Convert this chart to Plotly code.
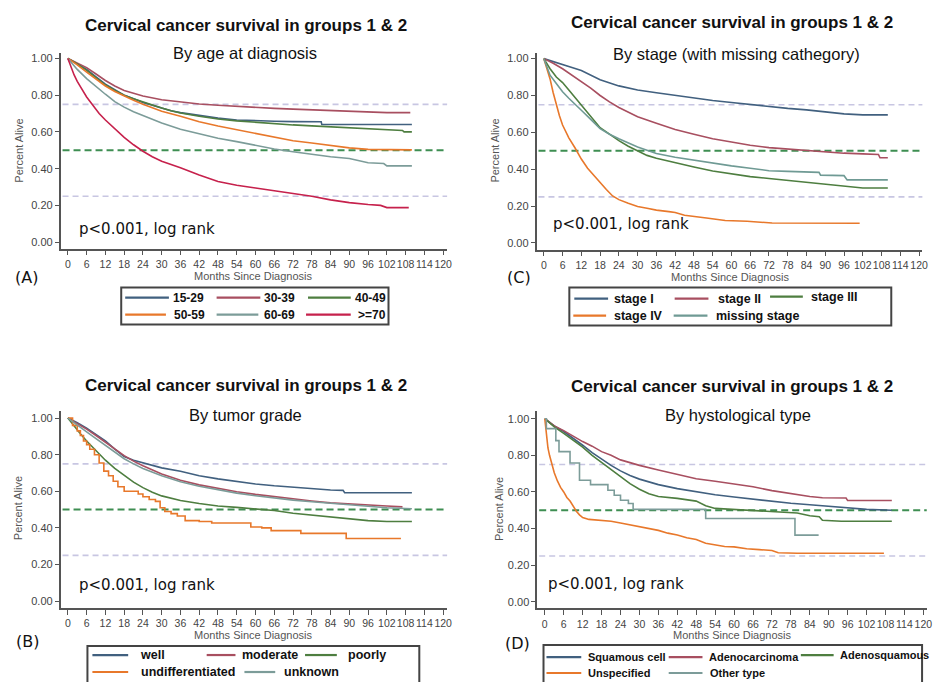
import plotly.graph_objects as go

W, H = 939, 682

# ---------------- data ----------------
MONTH_TICKS = list(range(0, 121, 6))
SURV_TICKS = [0.0, 0.2, 0.4, 0.6, 0.8, 1.0]
REF_LEVELS = [0.75, 0.50, 0.25]

MAIN_TITLE = "Cervical cancer survival in groups 1 & 2"
SUBTITLES = ["By age at diagnosis", "By stage (with missing cathegory)",
             "By tumor grade", "By hystological type"]
PANEL_LABELS = ["(A)", "(C)", "(B)", "(D)"]
PVALUE_TEXT = "p<0.001, log rank"
X_TITLE = "Months Since Diagnosis"
Y_TITLE = "Percent Alive"

# Panel A: by age
age_names = ["15-29", "30-39", "40-49", "50-59", "60-69", ">=70"]
age_15_29_m = [0, 3, 6, 9, 12, 15, 18, 21, 24, 27, 30, 33, 36, 42, 48, 54, 60, 66, 72, 78, 81, 81.2, 90, 100, 110]
age_15_29_s = [1.0, 0.97, 0.94, 0.9, 0.86, 0.83, 0.8, 0.78, 0.76, 0.745, 0.73, 0.715, 0.705, 0.69, 0.675, 0.665, 0.66, 0.658, 0.656, 0.655, 0.655, 0.64, 0.64, 0.64, 0.64]
age_30_39_m = [0, 3, 6, 9, 12, 15, 18, 21, 24, 30, 36, 42, 48, 54, 60, 66, 72, 78, 84, 90, 96, 102, 109.5]
age_30_39_s = [1.0, 0.975, 0.95, 0.915, 0.88, 0.85, 0.825, 0.81, 0.795, 0.775, 0.763, 0.752, 0.745, 0.738, 0.733, 0.728, 0.724, 0.72, 0.715, 0.71, 0.708, 0.705, 0.705]
age_40_49_m = [0, 3, 6, 9, 12, 15, 18, 21, 24, 27, 30, 33, 36, 42, 48, 54, 60, 66, 72, 78, 84, 90, 96, 102, 107, 107.5, 110]
age_40_49_s = [1.0, 0.97, 0.935, 0.895, 0.855, 0.825, 0.8, 0.78, 0.762, 0.745, 0.73, 0.715, 0.703, 0.685, 0.67, 0.66, 0.652, 0.645, 0.638, 0.633, 0.628, 0.622, 0.617, 0.612, 0.608, 0.6, 0.6]
age_50_59_m = [0, 3, 6, 9, 12, 15, 18, 21, 24, 30, 36, 42, 48, 54, 60, 66, 72, 78, 84, 90, 96, 102, 110]
age_50_59_s = [1.0, 0.965, 0.925, 0.885, 0.85, 0.82, 0.795, 0.772, 0.75, 0.712, 0.685, 0.655, 0.632, 0.612, 0.59, 0.57, 0.552, 0.54, 0.525, 0.513, 0.505, 0.502, 0.502]
age_60_69_m = [0, 3, 6, 9, 12, 15, 18, 21, 24, 30, 36, 42, 48, 54, 60, 66, 72, 78, 84, 90, 93, 96, 101, 102, 110]
age_60_69_s = [1.0, 0.94, 0.89, 0.845, 0.805, 0.765, 0.735, 0.71, 0.688, 0.648, 0.615, 0.588, 0.565, 0.547, 0.527, 0.507, 0.492, 0.478, 0.465, 0.455, 0.445, 0.432, 0.428, 0.415, 0.415]
age_70p_m = [0, 1, 2, 3, 4, 6, 8, 10, 12, 15, 18, 21, 24, 27, 30, 36, 42, 48, 54, 60, 66, 72, 78, 84, 90, 96, 100, 102, 109]
age_70p_s = [1.0, 0.95, 0.91, 0.875, 0.845, 0.79, 0.745, 0.70, 0.665, 0.615, 0.57, 0.53, 0.495, 0.465, 0.44, 0.405, 0.365, 0.33, 0.31, 0.295, 0.28, 0.265, 0.25, 0.23, 0.215, 0.205, 0.2, 0.188, 0.188]

# Panel C: by stage
stage_names = ["stage I", "stage II", "stage III", "stage IV", "missing stage"]
stage1_m = [0, 3, 6, 9, 12, 18, 24, 30, 36, 42, 48, 54, 60, 66, 72, 78, 84, 90, 96, 102, 110]
stage1_s = [1.0, 0.985, 0.97, 0.952, 0.935, 0.885, 0.852, 0.83, 0.815, 0.8, 0.785, 0.773, 0.762, 0.75, 0.738, 0.73, 0.722, 0.71, 0.7, 0.695, 0.695]
stage2_m = [0, 3, 6, 9, 12, 15, 18, 21, 24, 30, 36, 42, 48, 54, 60, 66, 72, 78, 84, 90, 96, 102, 107, 107.5, 110]
stage2_s = [1.0, 0.975, 0.945, 0.91, 0.875, 0.84, 0.8, 0.765, 0.735, 0.685, 0.65, 0.615, 0.59, 0.565, 0.548, 0.53, 0.517, 0.51, 0.5, 0.492, 0.487, 0.483, 0.48, 0.462, 0.462]
stage3_m = [0, 2, 4, 6, 8, 10, 12, 14, 16, 18, 21, 24, 27, 30, 33, 36, 42, 48, 54, 60, 66, 72, 78, 84, 90, 96, 98, 102, 110]
stage3_s = [1.0, 0.945, 0.9, 0.87, 0.83, 0.79, 0.75, 0.705, 0.665, 0.625, 0.59, 0.555, 0.525, 0.5, 0.475, 0.46, 0.435, 0.412, 0.39, 0.375, 0.36, 0.35, 0.34, 0.33, 0.322, 0.312, 0.305, 0.298, 0.298]
stage4_m = [0, 1, 2, 3, 4, 5, 6, 8, 10, 12, 14, 16, 18, 20, 22, 24, 27, 30, 33, 36, 40, 42, 45, 48, 52, 58, 65, 73, 80, 90, 101]
stage4_s = [1.0, 0.95, 0.89, 0.815, 0.75, 0.69, 0.64, 0.57, 0.515, 0.455, 0.405, 0.365, 0.33, 0.29, 0.255, 0.235, 0.215, 0.198, 0.188, 0.178, 0.17, 0.165, 0.15, 0.145, 0.135, 0.122, 0.118, 0.108, 0.107, 0.107, 0.107]
stage_miss_m = [0, 2, 4, 6, 8, 10, 12, 15, 18, 21, 24, 30, 36, 42, 48, 54, 60, 66, 72, 78, 84, 88, 88.5, 96, 97, 102, 110]
stage_miss_s = [1.0, 0.91, 0.865, 0.82, 0.785, 0.755, 0.72, 0.67, 0.62, 0.59, 0.565, 0.52, 0.485, 0.465, 0.448, 0.432, 0.418, 0.405, 0.392, 0.388, 0.385, 0.383, 0.368, 0.365, 0.342, 0.342, 0.342]

# Panel B: by tumor grade
grade_names = ["well", "moderate", "poorly", "undifferentiated", "unknown"]
grade_well_m = [0, 3, 6, 9, 12, 15, 18, 21, 24, 27, 30, 36, 42, 48, 54, 60, 66, 72, 78, 84, 88, 88.5, 96, 102, 110]
grade_well_s = [1.0, 0.975, 0.945, 0.91, 0.875, 0.83, 0.79, 0.77, 0.755, 0.74, 0.728, 0.71, 0.685, 0.668, 0.652, 0.64, 0.63, 0.622, 0.612, 0.607, 0.605, 0.592, 0.592, 0.592, 0.592]
grade_mod_m = [0, 3, 6, 9, 12, 15, 18, 21, 24, 30, 36, 42, 48, 54, 60, 66, 72, 78, 84, 90, 96, 102, 107]
grade_mod_s = [1.0, 0.972, 0.94, 0.905, 0.868, 0.83, 0.795, 0.765, 0.74, 0.695, 0.66, 0.635, 0.615, 0.598, 0.583, 0.57, 0.557, 0.547, 0.537, 0.53, 0.523, 0.52, 0.515]
grade_poor_m = [0, 2, 4, 6, 8, 10, 12, 15, 18, 21, 24, 27, 30, 36, 42, 48, 54, 60, 66, 72, 78, 84, 90, 96, 102, 110]
grade_poor_s = [1.0, 0.955, 0.915, 0.875, 0.84, 0.805, 0.77, 0.725, 0.685, 0.65, 0.62, 0.595, 0.575, 0.55, 0.533, 0.52, 0.512, 0.505, 0.495, 0.48, 0.47, 0.46, 0.448, 0.44, 0.435, 0.435]
grade_undiff_m = [0, 1.5, 3, 4, 5, 6, 7, 8.5, 10, 11.5, 13, 14.5, 16, 18, 22.5, 24, 26, 28, 29.5, 31, 33, 35, 37.5, 42, 46, 52, 58.5, 62, 65, 74.5, 89, 106.5]
grade_undiff_s = [1.0, 0.96, 0.93, 0.905, 0.875, 0.855, 0.83, 0.8, 0.755, 0.71, 0.685, 0.655, 0.625, 0.6, 0.585, 0.57, 0.555, 0.545, 0.51, 0.49, 0.478, 0.465, 0.44, 0.435, 0.427, 0.427, 0.405, 0.4, 0.385, 0.37, 0.342, 0.342]
grade_unk_m = [0, 3, 6, 9, 12, 15, 18, 21, 24, 30, 36, 42, 48, 54, 60, 66, 72, 78, 84, 90, 96, 102, 110]
grade_unk_s = [1.0, 0.96, 0.925, 0.888, 0.85, 0.812, 0.778, 0.75, 0.725, 0.685, 0.652, 0.628, 0.607, 0.59, 0.576, 0.563, 0.552, 0.543, 0.535, 0.527, 0.518, 0.51, 0.505]

# Panel D: by histological type
hist_names = ["Squamous cell", "Adenocarcinoma", "Adenosquamous", "Unspecified", "Other type"]
hist_sq_m = [0, 3, 6, 9, 12, 15, 18, 21, 24, 27, 30, 36, 42, 48, 54, 60, 66, 72, 78, 84, 90, 96, 102, 110]
hist_sq_s = [1.0, 0.96, 0.93, 0.895, 0.855, 0.815, 0.78, 0.745, 0.715, 0.69, 0.67, 0.64, 0.618, 0.6, 0.585, 0.572, 0.56, 0.548, 0.538, 0.53, 0.523, 0.513, 0.505, 0.5]
hist_adeno_m = [0, 3, 6, 9, 12, 15, 18, 21, 24, 27, 30, 36, 42, 48, 54, 60, 66, 72, 78, 84, 88, 90, 95.5, 96, 102, 110]
hist_adeno_s = [1.0, 0.96, 0.935, 0.905, 0.875, 0.85, 0.82, 0.8, 0.775, 0.76, 0.745, 0.72, 0.695, 0.672, 0.658, 0.645, 0.628, 0.607, 0.59, 0.575, 0.568, 0.567, 0.567, 0.553, 0.553, 0.553]
hist_adsq_m = [0, 3, 6, 9, 12, 15, 18, 21, 24, 27, 30, 33, 36, 42, 48, 51, 54, 60, 66, 72, 78, 80, 84, 87, 88, 94, 110]
hist_adsq_s = [1.0, 0.955, 0.92, 0.885, 0.845, 0.8, 0.76, 0.72, 0.68, 0.645, 0.615, 0.59, 0.575, 0.565, 0.55, 0.525, 0.51, 0.505, 0.5, 0.495, 0.49, 0.485, 0.47, 0.465, 0.445, 0.44, 0.44]
hist_unsp_m = [0, 0.5, 1, 1.5, 2, 3, 4, 5, 6, 7, 8, 9, 10, 11, 12, 14, 16, 18, 21, 24, 27, 30, 33, 36, 39, 42, 45, 48, 51, 54, 57, 60, 64, 68, 72, 74, 80, 90, 100, 107.5]
hist_unsp_s = [1.0, 0.9, 0.84, 0.8, 0.765, 0.705, 0.66, 0.625, 0.6, 0.57, 0.55, 0.52, 0.495, 0.475, 0.46, 0.45, 0.448, 0.445, 0.44, 0.43, 0.42, 0.41, 0.4, 0.39, 0.375, 0.365, 0.35, 0.34, 0.32, 0.31, 0.302, 0.3, 0.29, 0.285, 0.28, 0.268, 0.265, 0.265, 0.265, 0.265]
hist_other_m = [0, 0.5, 3.5, 4.5, 8.0, 11.0, 14.5, 20.0, 22.0, 24.0, 26.5, 28.0, 51.0, 79.3, 86.8]
hist_other_s = [1.0, 0.946, 0.88, 0.82, 0.758, 0.664, 0.64, 0.609, 0.582, 0.555, 0.537, 0.505, 0.455, 0.364, 0.364]

# ---------------- styles ----------------
BLUE, MAUVE, GREEN, ORANGE, TEAL, CRIMSON = "#41607F", "#A84F60", "#4E7E40", "#E8782B", "#7C9C99", "#C6214C"
FONT = "Liberation Sans, Arial, sans-serif"
HAND = "DejaVu Sans, sans-serif"

panels = [
    dict(names=age_names,
         series=[(age_15_29_m, age_15_29_s), (age_30_39_m, age_30_39_s), (age_40_49_m, age_40_49_s),
                 (age_50_59_m, age_50_59_s), (age_60_69_m, age_60_69_s), (age_70p_m, age_70p_s)],
         colors=[BLUE, MAUVE, GREEN, ORANGE, TEAL, CRIMSON],
         shapes=["linear"] * 6,
         # axis geometry in px: x-axis left/right, px of 0 and 120 months; y-axis top/bottom, px of 1.0 and 0.0
         geo=(61, 450, 68.3, 446, 52, 248, 57.5, 241.5),
         title_y=25, title_x=248, sub_x=247, sub_y=52, xt=(255, 275.5), yt=(19, 150),
         pval=(77, 228), lab=(27, 277),
         box=(122, 391, 287, 324),
         leg=[(126, 170, 172, 297), (218, 262, 264, 297), (310, 353, 355, 297),
              (126, 167, 173, 314), (218, 260, 264, 314), (308, 353, 358, 314)],
         legfs=12),
    dict(names=stage_names,
         series=[(stage1_m, stage1_s), (stage2_m, stage2_s), (stage3_m, stage3_s),
                 (stage4_m, stage4_s), (stage_miss_m, stage_miss_s)],
         colors=[BLUE, MAUVE, GREEN, ORANGE, "#6F9A94"],
         shapes=["linear"] * 5,
         geo=(540, 928.3, 547.3, 925, 51.7, 249, 57.7, 242.3),
         title_y=22, title_x=737, sub_x=741, sub_y=53, xt=(735, 276.5), yt=(498, 150),
         pval=(555, 223), lab=(522, 277),
         box=(573, 897, 287, 325),
         leg=[(578, 612, 616, 298), (679, 713, 721, 298), (775, 808, 814, 296),
              (577, 610, 616, 315), (678, 712, 719, 315)],
         legfs=12.5),
    dict(names=grade_names,
         series=[(grade_well_m, grade_well_s), (grade_mod_m, grade_mod_s), (grade_poor_m, grade_poor_s),
                 (grade_undiff_m, grade_undiff_s), (grade_unk_m, grade_unk_s)],
         colors=[BLUE, MAUVE, GREEN, ORANGE, TEAL],
         shapes=["linear", "linear", "linear", "hv", "linear"],
         geo=(61, 450, 68.3, 446, 411, 607.7, 417.7, 601),
         title_y=385, title_x=248, sub_x=247, sub_y=415, xt=(255, 634.5), yt=(18, 508),
         pval=(77, 585), lab=(28, 641),
         box=(88, 422, 646, 690),
         leg=[(93, 129, 139, 655), (208, 237, 242, 655), (307, 339, 348, 655),
              (93, 129, 140, 672), (246, 277, 284, 672)],
         legfs=12.5),
    dict(names=hist_names,
         series=[(hist_sq_m, hist_sq_s), (hist_adeno_m, hist_adeno_s), (hist_adsq_m, hist_adsq_s),
                 (hist_unsp_m, hist_unsp_s), (hist_other_m, hist_other_s)],
         colors=[BLUE, MAUVE, GREEN, ORANGE, TEAL],
         shapes=["linear", "linear", "linear", "linear", "hv"],
         geo=(540.7, 932.7, 548.3, 929.3, 411, 608.3, 418.3, 601.7),
         title_y=386, title_x=737, sub_x=743, sub_y=415, xt=(737, 635), yt=(502, 509),
         pval=(550, 584), lab=(521, 643),
         box=(547, 928, 645, 690),
         leg=[(550, 585, 590, 657), (673, 707, 712, 657), (806, 839, 843, 655),
              (550, 585, 590, 673), (673, 707, 713, 673)],
         legfs=11),
]

fig = go.Figure()
layout = dict(width=W, height=H, margin=dict(l=0, r=0, t=0, b=0),
              paper_bgcolor="white", plot_bgcolor="white", showlegend=False,
              font=dict(family=FONT, color="#333"))
annotations, shapes = [], []


def fx(px):
    return px / W


def fy(py):
    return 1 - py / H


for i, p in enumerate(panels):
    k = "" if i == 0 else str(i + 1)
    xa, ya = "x" + k, "y" + k
    ax0, ax1, p0, p120, ytop, ybot, p1, pz = p["geo"]
    xs = (p120 - p0) / 120.0
    ys = (pz - p1)
    layout["xaxis" + k] = dict(
        domain=[fx(ax0), fx(ax1)], range=[(ax0 - p0) / xs, (ax1 - p0) / xs], anchor=ya,
        tickvals=MONTH_TICKS, ticktext=[str(v) for v in MONTH_TICKS], tickangle=0,
        ticks="outside", ticklen=5, tickwidth=1.2, tickcolor="#555",
        showline=True, linecolor="#555", linewidth=1.5, showgrid=False, zeroline=False,
        tickfont=dict(size=10.5, color="#444", family=FONT))
    layout["yaxis" + k] = dict(
        domain=[fy(ybot), fy(ytop)], range=[(pz - ybot) / ys, (pz - ytop) / ys], anchor=xa,
        tickvals=SURV_TICKS, ticktext=["%.2f" % v for v in SURV_TICKS],
        ticks="outside", ticklen=4, tickwidth=1.2, tickcolor="#555",
        showline=True, linecolor="#555", linewidth=1.5, showgrid=False, zeroline=False,
        tickfont=dict(size=11, color="#444", family=FONT))

    for lvl in REF_LEVELS:
        mid = abs(lvl - 0.5) < 1e-9
        shapes.append(dict(type="line", xref=xa + " domain", x0=0.005, x1=1, yref=ya, y0=lvl, y1=lvl,
                           layer="below",
                           line=dict(color="#3E8E52" if mid else "#C8C6E2", width=2 if mid else 1.6,
                                     dash="7px,4px" if mid else "6px,4px")))

    for (m, s), name, col, shp in zip(p["series"], p["names"], p["colors"], p["shapes"]):
        fig.add_trace(go.Scatter(x=m, y=s, mode="lines", name=name, xaxis=xa, yaxis=ya,
                                 line=dict(color=col, width=1.6, shape=shp)))

    annotations.append(dict(text="<b>%s</b>" % MAIN_TITLE, x=fx(p["title_x"]), y=fy(p["title_y"]),
                            xref="paper", yref="paper", showarrow=False, xanchor="center", yanchor="middle",
                            font=dict(size=17, color="#111", family=FONT)))
    annotations.append(dict(text=SUBTITLES[i], x=fx(p["sub_x"]), y=fy(p["sub_y"]),
                            xref="paper", yref="paper", showarrow=False, xanchor="center", yanchor="middle",
                            font=dict(size=16.5, color="#111", family=FONT)))
    annotations.append(dict(text=X_TITLE, x=fx(p["xt"][0]), y=fy(p["xt"][1]), xref="paper", yref="paper",
                            showarrow=False, xanchor="center", yanchor="middle",
                            font=dict(size=11, color="#555", family=FONT)))
    annotations.append(dict(text=Y_TITLE, x=fx(p["yt"][0]), y=fy(p["yt"][1]), xref="paper", yref="paper",
                            showarrow=False, xanchor="center", yanchor="middle", textangle=-90,
                            font=dict(size=11, color="#555", family=FONT)))
    annotations.append(dict(text=PVALUE_TEXT, x=fx(p["pval"][0]), y=fy(p["pval"][1]), xref="paper",
                            yref="paper", showarrow=False, xanchor="left", yanchor="middle",
                            font=dict(size=15, color="#111", family=HAND)))
    annotations.append(dict(text=PANEL_LABELS[i], x=fx(p["lab"][0]), y=fy(p["lab"][1]), xref="paper",
                            yref="paper", showarrow=False, xanchor="center", yanchor="middle",
                            font=dict(size=16, color="#111", family=HAND)))

    bx0, bx1, by0, by1 = p["box"]
    shapes.append(dict(type="rect", xref="paper", yref="paper", x0=fx(bx0), x1=fx(bx1), y0=fy(by1), y1=fy(by0),
                       line=dict(color="#444", width=2), fillcolor="rgba(0,0,0,0)"))
    for (lx0, lx1, tx, ty), name, col in zip(p["leg"], p["names"], p["colors"]):
        shapes.append(dict(type="line", xref="paper", yref="paper", x0=fx(lx0), x1=fx(lx1), y0=fy(ty), y1=fy(ty),
                           line=dict(color=col, width=2.2)))
        annotations.append(dict(text="<b>%s</b>" % name, x=fx(tx), y=fy(ty), xref="paper", yref="paper",
                                showarrow=False, xanchor="left", yanchor="middle",
                                font=dict(size=p["legfs"], color="#111", family=FONT)))

layout["annotations"] = annotations
layout["shapes"] = shapes
fig.update_layout(**layout)
fig.write_html("out.html", config={"displayModeBar": False},
               post_script="document.body.style.margin='0px';document.body.style.overflow='hidden';")
